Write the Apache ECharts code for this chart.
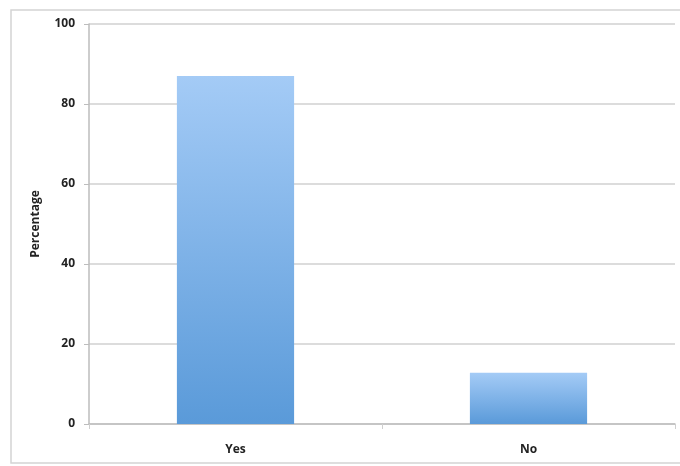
<!DOCTYPE html>
<html>
<head>
<meta charset="utf-8">
<script src="https://cdn.jsdelivr.net/npm/echarts@6/dist/echarts.min.js"></script>
<style>
  html, body { margin: 0; padding: 0; background: #fff; }
  #chart { width: 680px; height: 466px; }
</style>
</head>
<body>
<div id="chart"></div>
<script>
const categories = ['Yes', 'No']
const percentages = [87, 12.8]
const yTicks = [0, 20, 40, 60, 80, 100]

const myChart = echarts.init(document.getElementById('chart'))

const option = {
  animation: false,
  textStyle: { fontFamily: 'Open Sans, DejaVu Sans, sans-serif' },
  graphic: [
    {
      type: 'rect',
      shape: { x: 11, y: 10, width: 700, height: 453 },
      style: { fill: 'none', stroke: '#d4d4d4', lineWidth: 1.5 },
      silent: true,
    },
  ],
  grid: { left: 89, right: 5, top: 24, bottom: 42 },
  xAxis: {
    type: 'category',
    data: categories,
    axisLine: { lineStyle: { color: '#bdbdbd', width: 1.5 } },
    axisTick: { show: true, length: 5, lineStyle: { color: '#cfcfcf' } },
    axisLabel: { color: '#222', fontSize: 12, fontWeight: 'bold', margin: 20 },
  },
  yAxis: {
    type: 'value',
    min: yTicks[0],
    max: yTicks[yTicks.length - 1],
    interval: 20,
    name: 'Percentage',
    nameLocation: 'middle',
    nameGap: 47,
    nameTextStyle: { color: '#222', fontSize: 12, fontWeight: 'bold' },
    axisLine: { show: true, lineStyle: { color: '#bdbdbd', width: 1.5 } },
    axisTick: { show: true, length: 5, lineStyle: { color: '#bdbdbd' } },
    axisLabel: { color: '#222', fontSize: 12, fontWeight: 'bold', margin: 14 },
    splitLine: { lineStyle: { color: '#d0d0d0', width: 1.5 } },
  },
  series: [
    {
      type: 'bar',
      data: percentages,
      barWidth: '40%',
      itemStyle: {
        color: new echarts.graphic.LinearGradient(0, 0, 0, 1, [
          { offset: 0, color: '#a4cbf6' },
          { offset: 1, color: '#5a9ad9' },
        ]),
      },
    },
  ],
}

myChart.setOption(option, true)
</script>
</body>
</html>
